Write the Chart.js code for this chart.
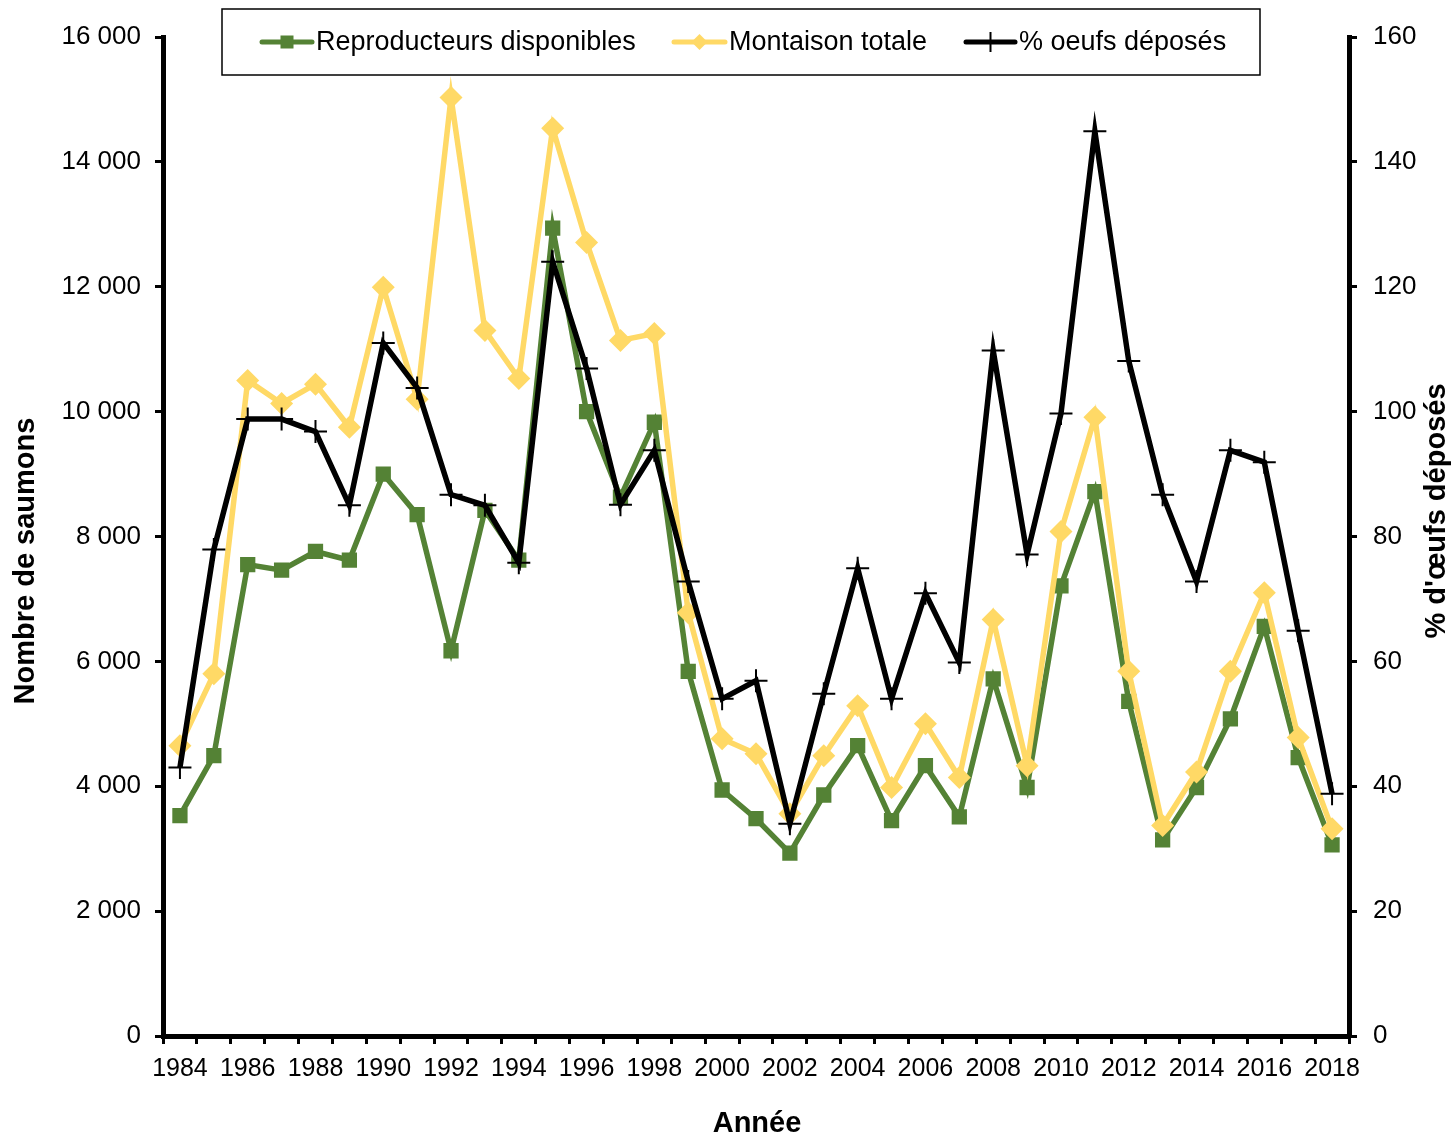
<!DOCTYPE html>
<html lang="fr">
<head>
<meta charset="utf-8">
<title>Reproducteurs, montaison et % oeufs déposés</title>
<script src="https://cdn.jsdelivr.net/npm/chart.js@4/dist/chart.umd.min.js"></script>
<style>
  html, body { margin: 0; padding: 0; background: #fff; }
  #wrap { width: 1456px; height: 1136px; position: relative; }
</style>
</head>
<body>
<div id="wrap"><canvas id="chart"></canvas></div>
<script>
'use strict';

/* données */
const annees = ['1984','1985','1986','1987','1988','1989','1990','1991','1992','1993',
  '1994','1995','1996','1997','1998','1999','2000','2001','2002','2003','2004','2005',
  '2006','2007','2008','2009','2010','2011','2012','2013','2014','2015','2016','2017','2018'];

const reproducteurs = [3530, 4490, 7550, 7460, 7760, 7620, 9000, 8350, 6170, 8420,
  7620, 12940, 10000, 8630, 9830, 5840, 3940, 3480, 2930, 3860, 4650, 3450,
  4330, 3510, 5720, 3980, 7210, 8720, 5360, 3140, 3980, 5080, 6560, 4460, 3060];

const montaison = [4650, 5800, 10500, 10130, 10440, 9750, 11990, 10200, 15030, 11300,
  10530, 14540, 12710, 11140, 11250, 6780, 4760, 4520, 3560, 4490, 5290, 3980,
  5000, 4140, 6670, 4330, 8080, 9910, 5840, 3370, 4230, 5840, 7100, 4780, 3320];

const oeufsDeposes = [43.0, 77.9, 98.8, 98.8, 96.8, 85.0, 111.0, 103.8, 86.7, 85.0,
  75.8, 124.0, 106.9, 85.1, 93.8, 72.8, 54.0, 56.9, 34.0, 54.8, 74.9, 54.0,
  70.9, 59.8, 109.8, 77.1, 99.7, 144.9, 108.1, 86.7, 72.8, 93.8, 91.9, 64.9, 38.8];

const VERT  = '#548235';
const JAUNE = '#FFD966';
const NOIR  = '#000000';
const FONT  = "'Liberation Sans', Arial, sans-serif";

const fmtMilliers = v => String(v).replace(/\B(?=(\d{3})+(?!\d))/g, '\u00a0');

/* légende encadrée + titres des axes, dessinés à la main */
const decor = {
  id: 'decor',
  afterDraw(chart) {
    const ctx = chart.ctx;
    ctx.save();

    // cadre de la légende
    ctx.fillStyle = '#fff';
    ctx.fillRect(222, 9, 1038, 66);
    ctx.strokeStyle = '#000';
    ctx.lineWidth = 1.5;
    ctx.strokeRect(222, 9, 1038, 66);

    const items = [
      { x0: 262, x1: 312, txt: 'Reproducteurs disponibles', color: VERT,  style: 'rect' },
      { x0: 674, x1: 725, txt: 'Montaison totale',          color: JAUNE, style: 'diamond' },
      { x0: 966, x1: 1015, txt: '% oeufs déposés',          color: NOIR,  style: 'cross' },
    ];
    const yl = 42;
    items.forEach(it => {
      ctx.strokeStyle = it.color;
      ctx.lineWidth = 5;
      ctx.lineCap = 'round';
      ctx.beginPath();
      ctx.moveTo(it.x0, yl);
      ctx.lineTo(it.x1, yl);
      ctx.stroke();
      const cx = (it.x0 + it.x1) / 2;
      ctx.fillStyle = it.color;
      if (it.style === 'rect') {
        ctx.fillRect(cx - 6.5, yl - 6.5, 13, 13);
      } else if (it.style === 'diamond') {
        ctx.beginPath();
        ctx.moveTo(cx, yl - 8); ctx.lineTo(cx + 8, yl);
        ctx.lineTo(cx, yl + 8); ctx.lineTo(cx - 8, yl);
        ctx.closePath(); ctx.fill();
      } else {
        ctx.lineWidth = 2;
        ctx.lineCap = 'butt';
        ctx.beginPath();
        ctx.moveTo(cx, yl - 10); ctx.lineTo(cx, yl + 10);
        ctx.stroke();
      }
      ctx.fillStyle = '#000';
      ctx.font = '27px ' + FONT;
      ctx.textAlign = 'left';
      ctx.textBaseline = 'middle';
      ctx.fillText(it.txt, it.x1 + 4, yl + 1);
    });

    // titres des axes
    ctx.fillStyle = '#000';
    ctx.font = 'bold 29px ' + FONT;
    ctx.textAlign = 'center';
    ctx.textBaseline = 'middle';

    ctx.save();
    ctx.translate(26, 561);
    ctx.rotate(-Math.PI / 2);
    ctx.fillText('Nombre de saumons', 0, 0);
    ctx.restore();

    ctx.save();
    ctx.translate(1437, 511);
    ctx.rotate(-Math.PI / 2);
    ctx.fillText("% d'œufs déposés", 0, 0);
    ctx.restore();

    ctx.textBaseline = 'alphabetic';
    ctx.fillText('Année', 757, 1132);

    ctx.restore();
  }
};

const tickGrid = { drawOnChartArea: false, drawTicks: true, tickLength: 8, color: '#000', lineWidth: 3 };

new Chart(document.getElementById('chart').getContext('2d'), {
  type: 'line',
  data: {
    labels: annees,
    datasets: [
      {
        label: 'Reproducteurs disponibles',
        data: reproducteurs,
        yAxisID: 'y',
        order: 3,
        borderColor: VERT, backgroundColor: VERT,
        borderWidth: 5.5,
        pointStyle: 'rect', pointRadius: 10.8,
        pointBackgroundColor: VERT, pointBorderColor: VERT, pointBorderWidth: 0,
      },
      {
        label: 'Montaison totale',
        data: montaison,
        yAxisID: 'y',
        order: 2,
        borderColor: JAUNE, backgroundColor: JAUNE,
        borderWidth: 5.5,
        pointStyle: 'rectRot', pointRadius: 11.5,
        pointBackgroundColor: JAUNE, pointBorderColor: JAUNE, pointBorderWidth: 0,
      },
      {
        label: '% oeufs déposés',
        data: oeufsDeposes,
        yAxisID: 'y1',
        order: 1,
        borderColor: NOIR, backgroundColor: NOIR,
        borderWidth: 5.5,
        pointStyle: 'cross', pointRadius: 11.5,
        pointBorderColor: NOIR, pointBorderWidth: 2,
      },
    ],
  },
  options: {
    responsive: true,
    maintainAspectRatio: false,
    animation: false,
    layout: { padding: { top: 37, left: 0, right: 0, bottom: 0 } },
    plugins: {
      legend:  { display: false },
      tooltip: { enabled: false },
    },
    scales: {
      x: {
        offset: true,
        grid: Object.assign({ offset: true }, tickGrid),
        border: { display: true, color: '#000', width: 5 },
        ticks: {
          autoSkip: false, maxRotation: 0, minRotation: 0,
          padding: 10, color: '#000',
          font: { family: FONT, size: 25 },
          callback: (v, i) => (i % 2 === 0 ? annees[i] : ''),
        },
        afterFit: s => { s.height = 100; },
      },
      y: {
        position: 'left',
        min: 0, max: 16000,
        grid: tickGrid,
        border: { display: true, color: '#000', width: 5 },
        ticks: {
          stepSize: 2000, padding: 14, color: '#000',
          font: { family: FONT, size: 26 },
          callback: v => fmtMilliers(v),
        },
        afterFit: s => { s.width = 163; },
      },
      y1: {
        position: 'right',
        min: 0, max: 160,
        grid: tickGrid,
        border: { display: true, color: '#000', width: 5 },
        ticks: {
          stepSize: 20, padding: 16, color: '#000',
          font: { family: FONT, size: 26 },
        },
        afterFit: s => { s.width = 107; },
      },
    },
  },
  plugins: [decor],
});
</script>
</body>
</html>
